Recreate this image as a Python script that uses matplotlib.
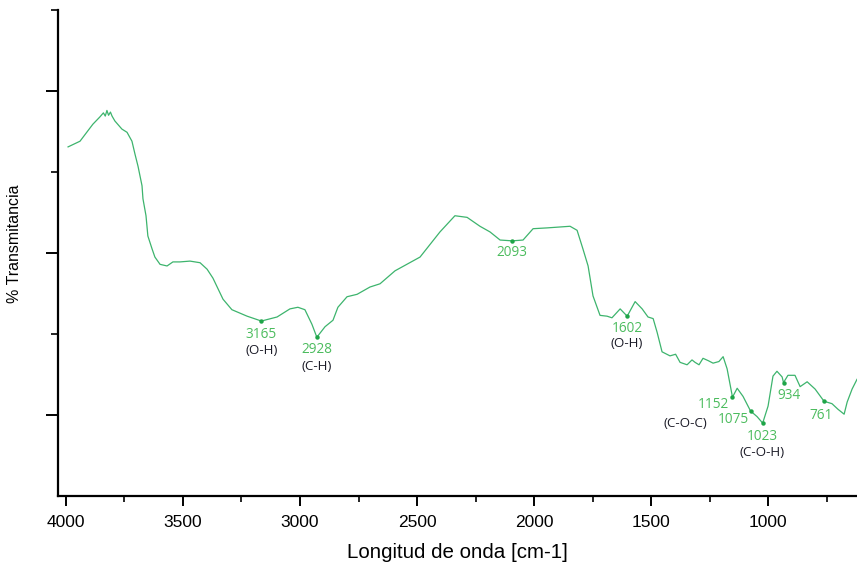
import numpy as np
import matplotlib
matplotlib.use("Agg")
import matplotlib.pyplot as plt
from matplotlib.ticker import FixedLocator

# FTIR spectrum, wavenumber [cm-1] and transmittance (arbitrary %)
wavenumber = [3991, 3940, 3906, 3885, 3855, 3840, 3832, 3825, 3818, 3810, 3803, 3791,
              3761, 3739, 3718, 3705, 3692, 3675, 3671, 3658, 3650, 3632, 3620, 3598,
              3568, 3543, 3513, 3470, 3427, 3397, 3372, 3329, 3291, 3226, 3165, 3098,
              3043, 3009, 2979, 2949, 2928, 2893, 2859, 2838, 2799, 2756, 2701, 2658,
              2594, 2487, 2402, 2338, 2286, 2231, 2188, 2145, 2093, 2047, 2004, 1944,
              1846, 1816, 1791, 1769, 1748, 1718, 1688, 1667, 1632, 1602, 1568, 1538,
              1513, 1491, 1474, 1453, 1419, 1395, 1376, 1346, 1325, 1312, 1295, 1278,
              1255, 1235, 1210, 1192, 1175,
              1152, 1132, 1107, 1075, 1047, 1023, 1000, 979, 962, 940, 934, 915,
              885, 863, 833, 799, 761, 727, 701, 675, 662, 641, 620]
transmittance = [43.1, 43.8, 45.1, 45.9, 46.8, 47.3, 46.9, 47.6, 47.0, 47.4, 46.9, 46.3,
                 45.3, 44.9, 43.8, 42.2, 40.7, 38.3, 36.7, 34.6, 32.1, 30.5, 29.5, 28.6,
                 28.4, 28.9, 28.9, 29.0, 28.8, 28.0, 26.9, 24.3, 23.0, 22.2, 21.6, 22.1,
                 23.1, 23.3, 23.0, 21.2, 19.6, 20.9, 21.7, 23.3, 24.6, 24.9, 25.8, 26.2,
                 27.8, 29.5, 32.6, 34.6, 34.4, 33.3, 32.6, 31.6, 31.5, 31.6, 33.0, 33.1,
                 33.3, 32.8, 30.5, 28.4, 24.7, 22.3, 22.2, 22.0, 23.1, 22.2, 24.0, 23.1,
                 22.1, 21.9, 20.2, 17.8, 17.3, 17.5, 16.5, 16.2, 16.8, 16.5, 16.2, 17.0,
                 16.7, 16.4, 16.6, 17.2, 15.7,
                 12.2, 13.3, 12.3, 10.5, 9.8, 9.0, 11.1, 14.8, 15.4, 14.7, 14.0, 14.9,
                 14.9, 13.5, 14.1, 13.2, 11.7, 11.4, 10.7, 10.1, 11.6, 13.2, 14.4]

# picos marcados y su asignacion
peaks = [3165, 2928, 2093, 1602, 1152, 1075, 1023, 934, 761]
groups = ["(O-H)", "(C-H)", "", "(O-H)", "(C-O-C)", "", "(C-O-H)", "", ""]
# desplazamientos en pixeles: numero y grupo
num_off = [(0, -13), (0, -12), (0, -12), (0, -12), (-19, -7), (-17, -9), (0, -13), (5, -13), (-3, -14)]
grp_off = [(0, -29), (0, -29), (0, 0), (0, -27), (-47, -26), (0, 0), (-1, -29), (0, 0), (0, 0)]

line_color = "#3db46d"
dot_color = "#1fa548"
num_color = "#4cbc5e"

fig = plt.figure(figsize=(8.57, 5.71), dpi=100)
ax = fig.add_axes([58/857, 75/571, 1 - 58/857, 486/571])

ax.plot(wavenumber, transmittance, color=line_color, lw=0.9)

wn_up = np.array(wavenumber[::-1])
t_up = np.array(transmittance[::-1])
for p, g, no, go in zip(peaks, groups, num_off, grp_off):
    t = np.interp(p, wn_up, t_up)
    ax.plot(p, t, "o", color=dot_color, ms=3.2, mew=0)
    ax.annotate(str(p), (p, t), xytext=no, textcoords="offset pixels",
                ha="center", va="center", color=num_color, fontsize=9.8,
                family="Open Sans")
    if g:
        ax.annotate(g, (p, t), xytext=go, textcoords="offset pixels",
                    ha="center", va="center", color="#1c1c28", fontsize=9.6,
                    family="Open Sans")

ax.set_xlim(4034, 620)
ax.set_ylim(0, 60)

ax.spines["top"].set_visible(False)
ax.spines["right"].set_visible(False)
ax.spines["left"].set_linewidth(1.6)
ax.spines["bottom"].set_linewidth(1.6)

ax.xaxis.set_major_locator(FixedLocator([4000, 3500, 3000, 2500, 2000, 1500, 1000]))
ax.xaxis.set_minor_locator(FixedLocator([3750, 3250, 2750, 2250, 1750, 1250, 750]))
ax.yaxis.set_major_locator(FixedLocator([10, 30, 50]))
ax.yaxis.set_minor_locator(FixedLocator([20, 40, 60]))
ax.set_yticklabels([])
ax.tick_params(axis="x", which="major", length=7, width=1.4, pad=7,
               labelsize=12.5, labelfontfamily="Liberation Sans")
ax.tick_params(axis="x", which="minor", length=4, width=1.2)
ax.tick_params(axis="y", which="major", length=9, width=1.4)
ax.tick_params(axis="y", which="minor", length=5, width=1.2)

ax.set_xlabel("Longitud de onda [cm-1]", fontsize=14.8, family="Liberation Sans", labelpad=9)
ax.set_ylabel("% Transmitancia", fontsize=11.5, family="Liberation Sans")
ax.yaxis.set_label_coords(-0.045, 0.52)

fig.savefig("out.png", dpi=100)
